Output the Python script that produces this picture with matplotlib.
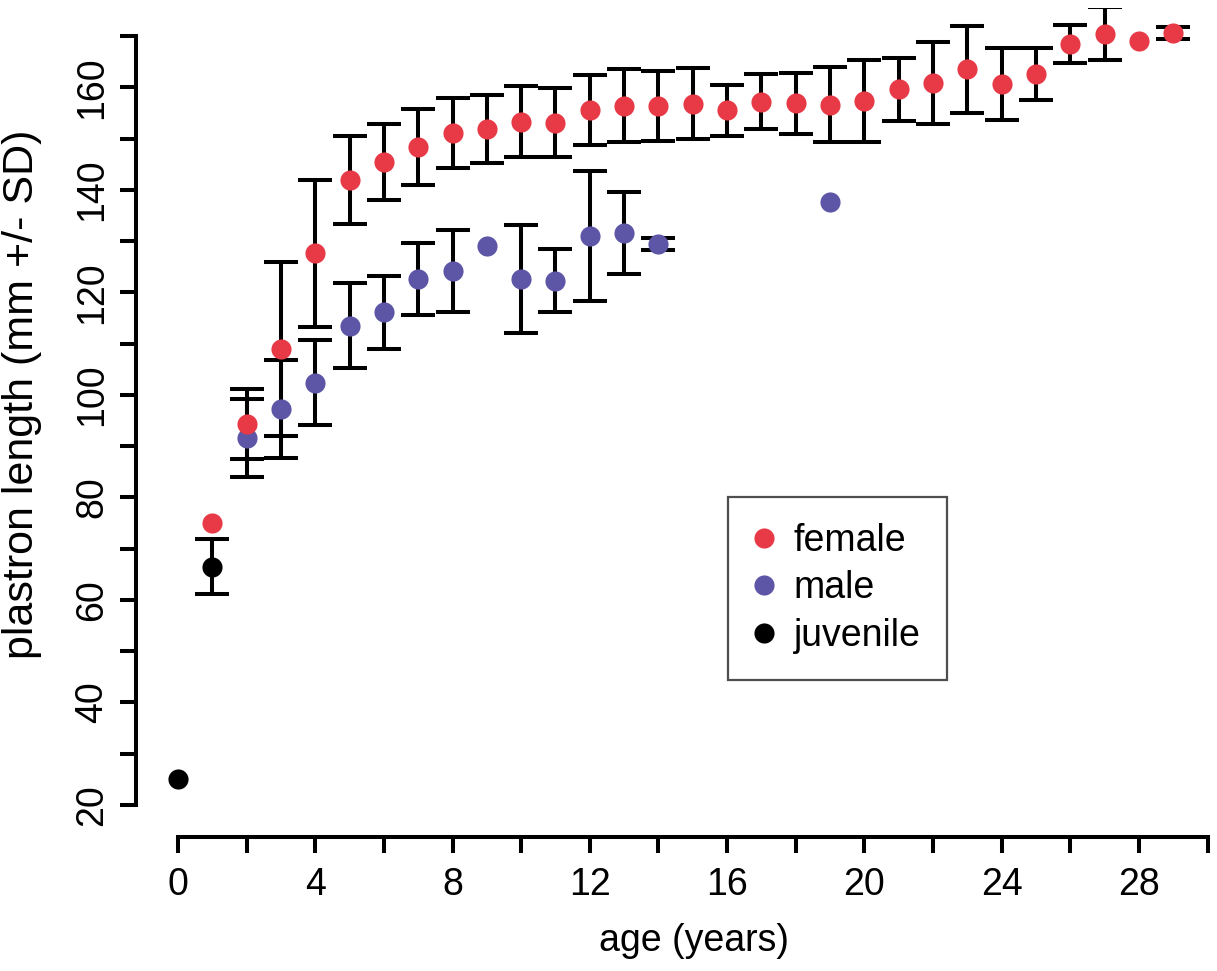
import numpy as np
import matplotlib
matplotlib.use("Agg")
import matplotlib.pyplot as plt

# =========================
# Data
# =========================
female_age = list(range(1, 30))
female_mean = [75.1, 94.3, 108.9, 127.6, 142.0, 145.5, 148.3, 151.1, 151.9, 153.3,
               153.1, 155.6, 156.4, 156.4, 156.8, 155.5, 157.2, 156.9, 156.6, 157.4,
               159.6, 160.9, 163.5, 160.7, 162.6, 168.5, 170.5, 169.1, 170.6]
female_sd = [np.nan, 6.8, 17.0, 14.3, 8.6, 7.4, 7.4, 6.9, 6.6, 6.9,
             6.7, 6.9, 7.1, 6.9, 6.9, 4.9, 5.4, 6.0, 7.3, 8.0,
             6.1, 8.0, 8.4, 7.0, 5.1, 3.7, 5.2, np.nan, 1.1]

male_age = [2, 3, 4, 5, 6, 7, 8, 9, 10, 11, 12, 13, 14, 19]
male_mean = [91.6, 97.2, 102.4, 113.5, 116.1, 122.6, 124.1, 129.1, 122.6, 122.3,
             131.0, 131.5, 129.5, 137.7]
male_sd = [7.6, 9.6, 8.3, 8.3, 7.2, 7.0, 8.0, np.nan, 10.6, 6.1, 12.6, 8.0, 1.2, np.nan]

juv_age = [0, 1]
juv_mean = [25.0, 66.5]
juv_sd = [np.nan, 5.4]

series = [
    ("female", female_age, female_mean, female_sd, "#e83a46"),
    ("male", male_age, male_mean, male_sd, "#5d55a6"),
    ("juvenile", juv_age, juv_mean, juv_sd, "black"),
]

# =========================
# Plot
# =========================
plt.rcParams['font.family'] = ['Liberation Sans', 'DejaVu Sans']
plt.rcParams['font.size'] = 27

fig = plt.figure(figsize=(12.17, 9.71), dpi=100)
ax = fig.add_axes([136 / 1217, 1 - 836.7 / 971, 1078.6 / 1217, 828.7 / 971])

# error bars first, points on top (juvenile, male, female order)
for name, x, m, sd, col in series[::-1]:
    x = np.array(x, dtype=float)
    m = np.array(m)
    sd = np.array(sd)
    ok = ~np.isnan(sd)
    ax.errorbar(x[ok], m[ok], yerr=sd[ok], fmt='none', ecolor='black',
                elinewidth=2.9, capsize=12.5, capthick=2.9, zorder=2)

for name, x, m, sd, col in series[::-1]:
    ax.plot(x, m, 'o', color=col, markersize=14.5, markeredgewidth=0,
            label=name, zorder=3)

ax.set_xlim(-1.22, 30.2)
ax.set_ylim(13.8, 175.5)

for s in ['top', 'right']:
    ax.spines[s].set_visible(False)
ax.spines['left'].set_bounds(20, 170)
ax.spines['bottom'].set_bounds(0, 30)
ax.spines['left'].set_linewidth(2.9)
ax.spines['bottom'].set_linewidth(2.9)

yt = list(range(20, 171, 10))
ax.set_yticks(yt)
ax.set_yticklabels([str(v) if v % 20 == 0 else "" for v in yt], rotation=90, va='center')
xt = list(range(0, 31, 2))
ax.set_xticks(xt)
ax.set_xticklabels([str(v) if v % 4 == 0 else "" for v in xt])

ax.tick_params(axis='both', direction='out', length=11.5, width=2.9)
ax.tick_params(axis='x', pad=10)
ax.tick_params(axis='y', pad=7)

ax.set_xlabel("age (years)")
ax.set_ylabel("plastron length (mm +/- SD)", fontsize=31)
ax.xaxis.set_label_coords(0.517, -0.104)
ax.yaxis.set_label_coords(-0.087, 0.534)

handles, labels = ax.get_legend_handles_labels()
order = [2, 1, 0]
leg = ax.legend([handles[i] for i in order], [labels[i] for i in order],
                loc='upper left', bbox_to_anchor=(728 / 1217, 1 - 497 / 971),
                bbox_transform=fig.transFigure, borderaxespad=0,
                frameon=True, fancybox=False, edgecolor='#222222',
                handlelength=0.5, handletextpad=0.55, labelspacing=0.3,
                borderpad=0.7, markerscale=1.0)
leg.get_frame().set_linewidth(1.6)

fig.savefig("out.png", dpi=100)
